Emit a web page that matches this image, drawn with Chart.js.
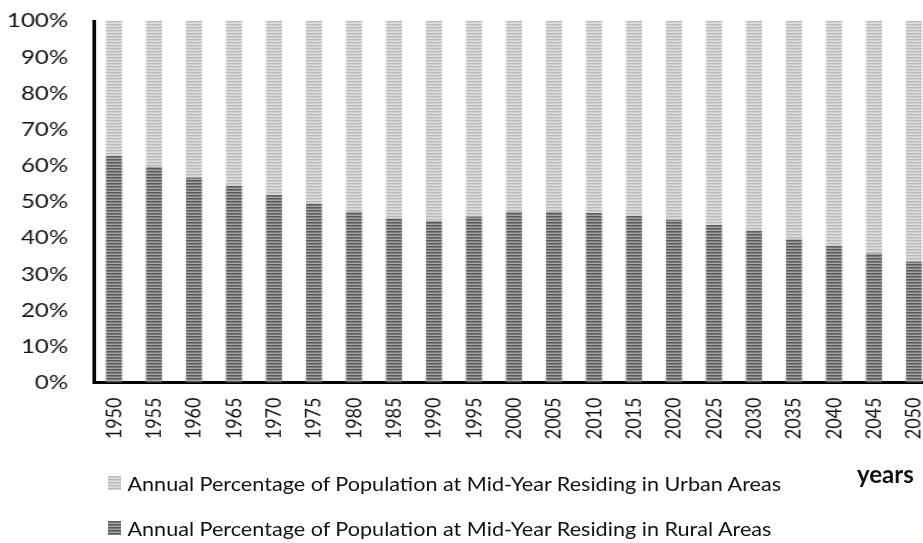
<!DOCTYPE html>
<html>
<head>
<meta charset="utf-8">
<script src="https://cdn.jsdelivr.net/npm/chart.js@4/dist/chart.umd.min.js"></script>
<style>
  html, body { margin: 0; padding: 0; background: #fff; }
  #page { position: relative; width: 923px; height: 543px; overflow: hidden; background: #fff; }
  #plot { position: absolute; left: 0; top: 0; width: 785px; height: 543px; transform: scaleX(1.2); transform-origin: 0 0; }
  #legend { position: absolute; left: 107.5px; top: 0; transform: scaleX(1.08); transform-origin: 0 0;
            font-family: Lato, sans-serif; font-size: 20px; line-height: 24px; color: #111; }
  .item { position: absolute; left: 0; white-space: nowrap; display: flex; align-items: center; height: 24px; }
  .item canvas { display: block; margin-right: 6px; }
  #axisTitle { position: absolute; left: 857px; top: 462px; font-family: Lato, sans-serif; font-weight: bold;
               font-size: 24px; line-height: 24px; color: #111; white-space: nowrap; }
</style>
</head>
<body>
<div id="page">
  <div id="plot"><canvas id="chart" width="785" height="543"></canvas></div>
  <div id="legend"></div>
  <div id="axisTitle"></div>
</div>
<script>
// Years on the category axis
const years = ['1950', '1955', '1960', '1965', '1970', '1975', '1980', '1985', '1990', '1995', '2000',
               '2005', '2010', '2015', '2020', '2025', '2030', '2035', '2040', '2045', '2050'];

// Share of the mid-year population living in rural areas (%)
const ruralShare = [62.7, 59.6, 56.7, 54.4, 51.9, 49.5, 47.2, 45.4, 44.7, 45.9, 47.2,
                    47.2, 46.9, 46.1, 45.0, 43.6, 42.0, 39.6, 37.8, 35.7, 33.5];

// Share of the mid-year population living in urban areas (%)
const urbanShare = [37.3, 40.4, 43.3, 45.6, 48.1, 50.5, 52.8, 54.6, 55.3, 54.1, 52.8,
                    52.8, 53.1, 53.9, 55.0, 56.4, 58.0, 60.4, 62.2, 64.3, 66.5];

// Percentage ticks on the value axis
const percentTicks = [0, 10, 20, 30, 40, 50, 60, 70, 80, 90, 100];

const ruralLabel = 'Annual Percentage of Population at Mid-Year Residing in Rural Areas';
const urbanLabel = 'Annual Percentage of Population at Mid-Year Residing in Urban Areas';
const axisTitleText = 'years';

// Horizontal stripe fills for the two series
const stripeRows = {
  rural: ['#5a5a5a', '#7a7a7a', '#a5a5a5'],
  urban: ['#b9b9b9', '#cfcfcf', '#dddddd']
};

function stripes(ctx, rows) {
  const tile = document.createElement('canvas');
  tile.width = 2;
  tile.height = rows.length;
  const t = tile.getContext('2d');
  rows.forEach((c, i) => { t.fillStyle = c; t.fillRect(0, i, 2, 1); });
  return ctx.createPattern(tile, 'repeat');
}

const canvas = document.getElementById('chart');
const ctx = canvas.getContext('2d');

const chart = new Chart(ctx, {
  type: 'bar',
  data: {
    labels: years,
    datasets: [
      { label: ruralLabel, data: ruralShare, backgroundColor: stripes(ctx, stripeRows.rural), borderWidth: 0 },
      { label: urbanLabel, data: urbanShare, backgroundColor: stripes(ctx, stripeRows.urban), borderWidth: 0 }
    ]
  },
  options: {
    responsive: false,
    animation: false,
    layout: { padding: { top: 21, right: 6.7, bottom: 0, left: 0 } },
    datasets: { bar: { categoryPercentage: 1.0, barPercentage: 0.4 } },
    plugins: { legend: { display: false }, tooltip: { enabled: false } },
    scales: {
      x: {
        stacked: true,
        grid: { display: false, drawTicks: false },
        border: { display: true, color: '#000', width: 3 },
        ticks: { font: { family: 'Lato', size: 18 }, color: '#111', minRotation: 90, maxRotation: 90, autoSkip: false, padding: 15 },
        afterFit: (s) => { s.height = 160.5; s.paddingLeft = 0; s.paddingRight = 0; }
      },
      y: {
        stacked: true,
        min: 0,
        max: 100,
        grid: { display: false, drawTicks: false },
        border: { display: true, color: '#000', width: 3 },
        afterBuildTicks: (s) => { s.ticks = percentTicks.map(v => ({ value: v })); },
        ticks: { font: { family: 'Lato', size: 20 }, color: '#111', padding: 21.6, callback: (v) => v + '%' },
        afterFit: (s) => { s.width = 78.3; s.paddingTop = 0; s.paddingBottom = 0; }
      }
    }
  }
});

// Legend below the plot, urban entry first, built from the chart's datasets
const legendEl = document.getElementById('legend');
const rowTops = [471.3, 515.7];
chart.data.datasets.slice().reverse().forEach((ds, i) => {
  const item = document.createElement('div');
  item.className = 'item';
  item.style.top = rowTops[i] + 'px';
  const sw = document.createElement('canvas');
  sw.width = 12;
  sw.height = 14;
  const sctx = sw.getContext('2d');
  sctx.fillStyle = stripes(sctx, i === 0 ? stripeRows.urban : stripeRows.rural);
  sctx.fillRect(0, 0, 12, 14);
  const span = document.createElement('span');
  span.textContent = ds.label;
  item.appendChild(sw);
  item.appendChild(span);
  legendEl.appendChild(item);
});

document.getElementById('axisTitle').textContent = axisTitleText;
</script>
</body>
</html>
